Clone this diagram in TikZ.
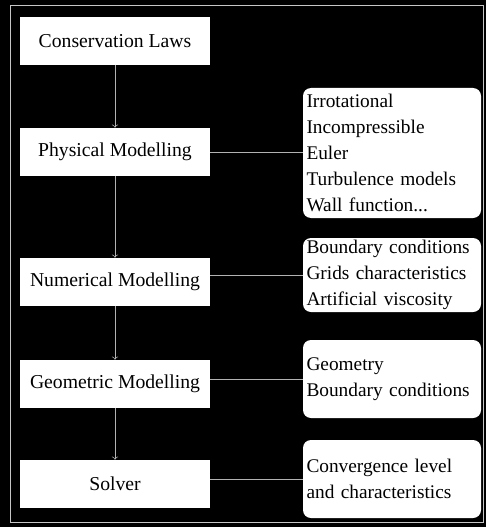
\documentclass[tikz,border=0pt]{standalone}
\usepackage{fontspec}
\setmainfont{Liberation Serif}
\usepackage{color}

\newcommand{\detailfont}{\fontsize{11}{14.8}\selectfont\hyphenpenalty=10000\relax}

\tikzset{
  stage/.style={fill=white, minimum width=3.8cm, minimum height=0.96cm, inner sep=0pt, font=\fontsize{11.2}{14.8}\selectfont},
  detail/.style={fill=white, rounded corners=0.16cm, text width=3.42cm, inner xsep=0.07cm, inner ysep=0pt, align=left, font=\detailfont},
  link/.style={gray!60, thin}
}

\begin{document}
\begin{tikzpicture}
\fill[black] (0,0) rectangle (9.72,-10.54);
\useasboundingbox (0,0) rectangle (9.72,-10.54);
\draw[gray!45, very thin] (0.2,-0.1) rectangle (9.66,-10.44);
\node[stage] (cons) at (2.3,-0.82) {Conservation Laws};
\node[stage] (phys) at (2.3,-3.04) {Physical Modelling};
\node[stage] (num) at (2.3,-5.64) {Numerical Modelling};
\node[stage] (geo) at (2.3,-7.68) {Geometric Modelling};
\node[stage] (solv) at (2.3,-9.68) {Solver};
\node[detail, minimum height=2.6cm] (hyp) at (7.84,-3.06) {Irrotational\\Incompressible\\Euler\\Turbulence models\\Wall function...};
\node[detail, minimum height=1.48cm] (disc) at (7.84,-5.5) {Boundary conditions\\Grids characteristics\\Artificial viscosity};
\node[detail, minimum height=1.56cm] (mesh) at (7.84,-7.58) {Geometry\\Boundary conditions};
\node[detail, minimum height=1.56cm] (conv) at (7.84,-9.58) {Convergence level\\and characteristics};
\draw[link, ->] (cons) -- (phys);
\draw[link, ->] (phys) -- (num);
\draw[link, ->] (num) -- (geo);
\draw[link, ->] (geo) -- (solv);
\draw[link] (phys.east) -- (phys.east -| hyp.west);
\draw[link] (disc.west) -- (disc.west -| num.east);
\draw[link] (mesh.west) -- (mesh.west -| geo.east);
\draw[link] (conv.west) -- (conv.west -| solv.east);
\end{tikzpicture}
\end{document}
